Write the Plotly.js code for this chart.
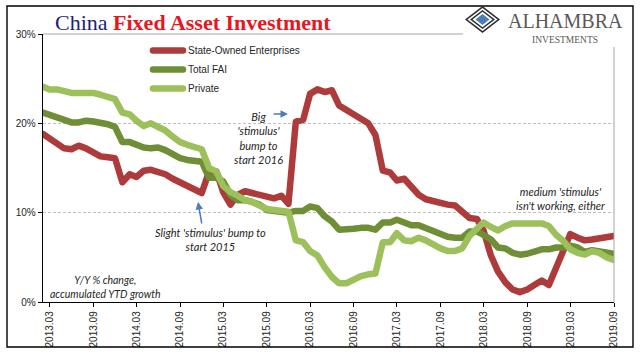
<!DOCTYPE html>
<html>
<head>
<meta charset="utf-8">
<script src="https://cdn.plot.ly/plotly-3.0.1.min.js"></script>
<style>
html,body{margin:0;padding:0;background:#fff;}
#chart{width:640px;height:360px;}
.js-line{stroke-linejoin:round;stroke-linecap:round;}
</style>
</head>
<body>
<div id="chart"></div>
<script>
// ---- data ----
const months = [
 '2013-02','2013-03','2013-04','2013-05','2013-06','2013-07','2013-08','2013-09','2013-10','2013-11','2013-12',
 '2014-01','2014-02','2014-03','2014-04','2014-05','2014-06','2014-07','2014-08','2014-09','2014-10','2014-11','2014-12',
 '2015-01','2015-02','2015-03','2015-04','2015-05','2015-06','2015-07','2015-08','2015-09','2015-10','2015-11','2015-12',
 '2016-01','2016-02','2016-03','2016-04','2016-05','2016-06','2016-07','2016-08','2016-09','2016-10','2016-11','2016-12',
 '2017-01','2017-02','2017-03','2017-04','2017-05','2017-06','2017-07','2017-08','2017-09','2017-10','2017-11','2017-12',
 '2018-01','2018-02','2018-03','2018-04','2018-05','2018-06','2018-07','2018-08','2018-09','2018-10','2018-11','2018-12',
 '2019-01','2019-02','2019-03','2019-04','2019-05','2019-06','2019-07','2019-08','2019-09'
];
const soe = [
 18.8,18.3,17.6,17.2,17.1,17.5,17.2,16.7,16.3,16.2,16.1,
 13.4,14.3,14.0,14.7,14.8,14.5,14.3,13.8,13.4,13.1,12.7,12.2,
 14.6,14.6,12.3,10.9,12.0,12.4,12.2,12.0,11.7,11.6,11.9,11.0,
 20.2,20.4,23.3,23.8,23.5,23.7,22.0,21.5,21.0,20.6,20.0,18.7,
 14.7,14.5,13.6,13.8,12.9,12.0,11.5,11.3,11.0,10.9,10.8,10.1,
 9.4,9.3,8.0,5.2,3.4,2.2,1.4,1.1,1.4,1.9,2.4,1.9,
 3.9,5.9,7.6,7.2,6.9,7.0,7.1,7.2,7.4
];
const totalFAI = [
 21.2,20.9,20.6,20.4,20.1,20.1,20.3,20.2,20.1,19.9,19.6,
 17.9,17.9,17.6,17.3,17.2,17.3,17.0,16.5,16.1,15.9,15.8,15.7,
 13.9,13.9,13.5,12.0,11.4,11.4,11.2,10.9,10.3,10.2,10.2,10.0,
 10.2,10.2,10.7,10.5,9.6,9.0,8.1,8.1,8.2,8.3,8.3,8.1,
 8.9,8.9,9.2,8.9,8.6,8.6,8.3,7.8,7.5,7.3,7.2,7.2,
 7.9,7.9,7.5,7.0,6.1,6.0,5.5,5.3,5.4,5.7,5.9,5.9,
 6.1,6.1,6.3,6.1,5.6,5.8,5.7,5.5,5.4
];
const privateFAI = [
 24.1,23.8,23.8,23.6,23.4,23.4,23.4,23.4,23.2,23.0,22.7,
 21.2,21.0,20.3,19.7,20.0,19.6,19.2,18.5,17.9,17.6,17.4,17.1,
 15.0,14.6,13.0,12.3,11.9,11.4,11.2,10.8,10.4,10.3,10.2,10.1,
 6.9,6.7,5.7,5.2,3.9,2.8,2.1,2.1,2.5,2.9,3.1,3.2,
 6.7,6.7,7.7,6.9,6.8,7.2,6.9,6.4,6.0,5.7,5.7,6.0,
 7.4,8.2,8.9,8.4,8.0,8.5,8.8,8.8,8.8,8.8,8.8,8.5,
 7.5,6.8,5.9,5.5,5.3,5.7,5.5,5.0,4.7
];
const seriesNames = ['State-Owned Enterprises','Total FAI','Private'];
const tickDates = ['2013-03','2013-09','2014-03','2014-09','2015-03','2015-09','2016-03','2016-09','2017-03','2017-09','2018-03','2018-09','2019-03','2019-09'];
const tickLabels = ['2013.03','2013.09','2014.03','2014.09','2015.03','2015.09','2016.03','2016.09','2017.03','2017.09','2018.03','2018.09','2019.03','2019.09'];
const yTicks = [0,10,20,30];
const yTickLabels = ['0%','10%','20%','30%'];

// ---- layout helpers (pixel -> paper) ----
const L = 43, R = 614, T = 34, B = 302;
const PX = x => (x - L) / (R - L);
const PY = y => (B - y) / (B - T);
function diamond(cx, cy, hw, hh, fill){
  return {type:'path', xref:'paper', yref:'paper', layer:'above',
    path:`M ${PX(cx-hw)},${PY(cy)} L ${PX(cx)},${PY(cy-hh)} L ${PX(cx+hw)},${PY(cy)} L ${PX(cx)},${PY(cy+hh)} Z`,
    fillcolor:fill, line:{width:0}};
}

const colors = ['#AE3B3B','#6E8F35','#9DC15A'];
const dataY = [soe, totalFAI, privateFAI];
const traces = dataY.map((ys,i)=>({
  type:'scatter', mode:'lines', x:months, y:ys, name:seriesNames[i],
  line:{color:colors[i], width:6.5}
}));

const annFont = {family:'Lato', size:11, color:'#262626', style:'italic'};
const layout = {
  width:640, height:360,
  margin:{l:L, r:640-R, t:T, b:360-B, pad:0},
  paper_bgcolor:'#fff', plot_bgcolor:'#fff',
  showlegend:true,
  legend:{x:PX(148), y:PY(36), xanchor:'left', yanchor:'top', bgcolor:'rgba(0,0,0,0)',
    font:{family:'Liberation Sans', size:10, color:'#262626'}, itemwidth:30, traceorder:'normal'},
  xaxis:{type:'date', range:['2013-02-01','2019-09-01'], tickmode:'array', tickvals:tickDates, ticktext:tickLabels,
    tickangle:-90, ticks:'outside', ticklen:4, tickcolor:'#000', showline:true, linecolor:'#000', linewidth:1.3,
    showgrid:false, zeroline:false, tickfont:{family:'Liberation Sans', size:10, color:'#262626'}},
  yaxis:{range:[0,30], tickmode:'array', tickvals:yTicks, ticktext:yTickLabels, ticks:'outside', ticklen:4, tickcolor:'#000',
    showline:true, linecolor:'#000', linewidth:1.3, showgrid:true, gridcolor:'#BFBFBF', griddash:'3px,2px', gridwidth:1,
    zeroline:false, tickfont:{family:'Liberation Sans', size:10, color:'#262626'}},
  shapes:[
    {type:'rect', xref:'paper', yref:'paper', layer:'above', x0:PX(462), x1:PX(632), y0:PY(47), y1:PY(7), fillcolor:'#fff', line:{width:0}},
    {type:'line', xref:'paper', yref:'paper', layer:'above', x0:0, x1:PX(463), y0:1, y1:1, line:{color:'#A6A6A6', width:1}},
    {type:'line', xref:'paper', yref:'paper', layer:'above', x0:1, x1:1, y0:0, y1:PY(47), line:{color:'#A6A6A6', width:1}},
    {type:'rect', xref:'paper', yref:'paper', layer:'above', x0:PX(7), x1:PX(633), y0:PY(347), y1:PY(6), line:{color:'#000', width:1.4}},
    diamond(482.5, 19.5, 17.5, 13.5, '#2E2E2E'),
    diamond(482.5, 19.5, 15, 11.5, '#fff'),
    diamond(482.5, 19.5, 12.5, 9.6, '#2E2E2E'),
    diamond(482.5, 19.5, 10, 7.7, '#fff'),
    diamond(482.5, 19.5, 7, 5.5, '#4A7EBB')
  ],
  annotations:[
    {xref:'paper', yref:'paper', x:PX(53), y:PY(22), xanchor:'left', yanchor:'middle', showarrow:false,
     text:'<span style="color:#1E1E78">China</span> <span style="color:#E8161D"><b>Fixed Asset Investment</b></span>',
     font:{family:'Liberation Serif', size:22}},
    {xref:'paper', yref:'paper', x:PX(506), y:PY(21), xanchor:'left', yanchor:'middle', showarrow:false,
     text:'ALHAMBRA', font:{family:'Liberation Serif', size:20, color:'#595959'}},
    {xref:'paper', yref:'paper', x:PX(565), y:PY(40), xanchor:'center', yanchor:'middle', showarrow:false,
     text:'INVESTMENTS', font:{family:'Liberation Serif', size:9.5, color:'#595959'}},
    {xref:'paper', yref:'paper', x:PX(258), y:PY(138), xanchor:'center', yanchor:'middle', showarrow:false, align:'center',
     text:"Big<br>'stimulus'<br>bump to<br>start 2016", font:annFont},
    {xref:'paper', yref:'paper', x:PX(288), y:PY(114), showarrow:true, text:'', ax:-16, ay:0,
     arrowcolor:'#4A7EBB', arrowwidth:1.5, arrowhead:2, arrowsize:1, standoff:0},
    {xref:'paper', yref:'paper', x:PX(210), y:PY(239.5), xanchor:'center', yanchor:'middle', showarrow:false, align:'center',
     text:"Slight 'stimulus' bump to<br>start 2015", font:annFont},
    {xref:'paper', yref:'paper', x:PX(198), y:PY(202), showarrow:true, text:'', ax:4, ay:23,
     arrowcolor:'#4A7EBB', arrowwidth:1.5, arrowhead:2, arrowsize:1, standoff:0},
    {xref:'paper', yref:'paper', x:PX(560), y:PY(198), xanchor:'center', yanchor:'middle', showarrow:false, align:'center',
     text:"medium 'stimulus'<br>isn't working, either", font:annFont},
    {xref:'paper', yref:'paper', x:PX(105), y:PY(287), xanchor:'center', yanchor:'middle', showarrow:false, align:'center',
     text:"Y/Y % change,<br>accumulated YTD growth", font:{family:'Lato', size:10.5, color:'#262626', style:'italic'}}
  ]
};
Plotly.newPlot('chart', traces, layout, {staticPlot:true, displayModeBar:false});
</script>
</body>
</html>
